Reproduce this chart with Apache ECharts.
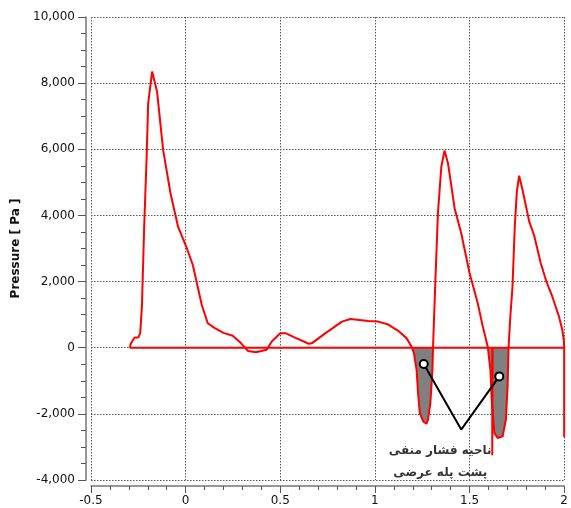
<!DOCTYPE html>
<html>
<head>
<meta charset="utf-8">
<script src="https://cdn.jsdelivr.net/npm/echarts@6/dist/echarts.min.js"></script>
<style>
html,body{margin:0;padding:0;background:#fff;}
#chart{width:571px;height:508px;}
</style>
</head>
<body>
<div id="chart"></div>
<script>
// Upper surface pressure (x, Pa)
const upperX = [-0.295,-0.300,-0.290,-0.270,-0.250,-0.240,-0.231,-0.219,-0.206,-0.198,-0.177,-0.151,-0.119,-0.080,-0.040,0.003,0.038,0.085,0.117,0.152,0.200,0.249,0.292,0.330,0.371,0.428,0.455,0.500,0.528,0.572,0.651,0.668,0.739,0.826,0.870,0.966,1.018,1.071,1.123,1.167,1.193,1.206,1.220,1.228,1.237,1.255,1.272,1.281,1.293,1.304,1.307,1.319,1.333,1.351,1.368,1.386,1.421,1.456,1.500,1.543,1.570,1.596,1.610,1.618,1.631,1.648,1.675,1.692,1.701,1.706,1.715,1.727,1.739,1.750,1.762,1.780,1.815,1.841,1.876,1.906,1.937,1.972,1.990,1.998,2.000,2.000];
const upperY = [0,60,120,310,310,440,1250,3660,5780,7390,8350,7750,5980,4670,3660,3060,2500,1300,740,600,450,360,140,-100,-140,-60,190,440,440,320,120,140,440,790,870,810,790,700,510,290,40,-160,-660,-1370,-1970,-2230,-2300,-2170,-1670,-660,0,1950,4070,5480,5960,5580,4220,3460,2260,1350,640,40,-660,-1670,-2580,-2730,-2680,-2170,-1170,0,900,1850,3670,4720,5200,4770,3820,3400,2560,2000,1550,950,540,240,0,-2700];
// Lower surface pressure
const lowerX = [-0.295,1.620,1.620,1.622,2.000];
const lowerY = [0,0,-3250,0,0];
// Shaded negative-pressure zone (range on x)
const shadeRange = [1.15, 1.75];
// Annotation pointer
const annoX = [1.258,1.456,1.657];
const annoY = [-492,-2476,-867];
const annoText = ['ناحیه فشار منفی','پشت پله عرضی'];
const annoTextPos = [1.345,-3440];
// Axes
const xTicks = {min:-0.5,max:2,interval:0.5};
const yTicks = {min:-4000,max:10000,interval:2000};
const yName = 'Pressure [ Pa ]';

const upper = upperX.map((x,i)=>[x,upperY[i]]);
const lower = lowerX.map((x,i)=>[x,lowerY[i]]);
const shade = upper.filter(p=>p[0]>=shadeRange[0]&&p[0]<=shadeRange[1]).map(p=>[p[0],Math.min(p[1],0)]);
const anno = annoX.map((x,i)=>i===1?{value:[x,annoY[i]],symbol:'none'}:{value:[x,annoY[i]]});

const chart = echarts.init(document.getElementById('chart'),null,{renderer:'canvas'});
const gridLine = {show:true,lineStyle:{color:'#555',width:1,type:[1.5,1.5]}};
chart.setOption({
  animation:false,
  backgroundColor:'#fff',
  grid:{left:91,right:4,top:17,bottom:28,containLabel:false},
  xAxis:{type:'value',min:xTicks.min,max:xTicks.max,interval:xTicks.interval,offset:6,
    axisLine:{show:true,onZero:false,lineStyle:{color:'#777',width:1.5}},
    axisTick:{show:true,length:7,lineStyle:{color:'#555'}},
    minorTick:{show:true,splitNumber:5,length:4,lineStyle:{color:'#555'}},
    axisLabel:{color:'#111',fontFamily:'DejaVu Sans',fontSize:12,margin:9,showMinLabel:true,showMaxLabel:true},
    splitLine:gridLine},
  yAxis:{type:'value',min:yTicks.min,max:yTicks.max,interval:yTicks.interval,offset:5,
    name:yName,nameLocation:'middle',nameGap:48,nameRotate:90,
    nameTextStyle:{fontFamily:'DejaVu Sans',fontWeight:'bold',fontSize:12,color:'#111'},
    axisLine:{show:true,onZero:false,lineStyle:{color:'#777',width:1.5}},
    axisTick:{show:true,length:8,lineStyle:{color:'#555'}},
    minorTick:{show:true,splitNumber:4,length:5,lineStyle:{color:'#555'}},
    axisLabel:{color:'#111',fontFamily:'DejaVu Sans',fontSize:12,margin:11,formatter:v=>v.toLocaleString('en-US')},
    splitLine:gridLine},
  series:[
    {type:'line',data:shade,symbol:'none',lineStyle:{width:0},areaStyle:{color:'#808080',opacity:1,origin:0},z:1},
    {type:'line',data:lower,symbol:'none',lineStyle:{color:'#ff0000',width:2},z:3},
    {type:'line',data:upper,symbol:'none',lineStyle:{color:'#ff0000',width:2},z:4},
    {type:'line',data:anno,symbol:'circle',symbolSize:8,showSymbol:true,
      itemStyle:{color:'#fff',borderColor:'#000',borderWidth:2},
      lineStyle:{color:'#000',width:2},z:5},
    {type:'scatter',data:[annoTextPos],symbolSize:0,z:6,
      label:{show:true,position:'inside',formatter:()=>annoText.join('\n'),
        fontFamily:'DejaVu Sans',fontWeight:'bold',fontSize:12,lineHeight:22,color:'#000',align:'center'}}
  ]
});
</script>
</body>
</html>
